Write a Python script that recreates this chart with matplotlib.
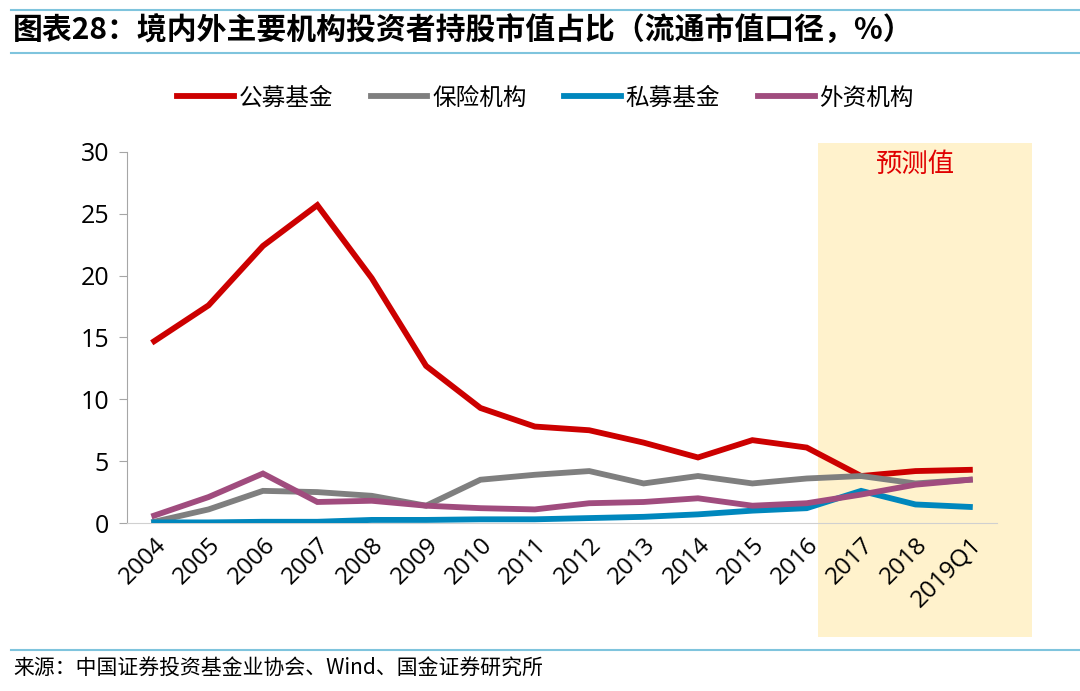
import matplotlib.pyplot as plt
from matplotlib.patches import Rectangle
from matplotlib.lines import Line2D

plt.rcParams['font.family'] = ['Open Sans', 'Noto Sans CJK SC', 'DejaVu Sans']

years = ['2004', '2005', '2006', '2007', '2008', '2009', '2010', '2011', '2012',
         '2013', '2014', '2015', '2016', '2017', '2018', '2019Q1']
public_fund = [14.7, 17.6, 22.4, 25.7, 19.8, 12.7, 9.3, 7.8, 7.5, 6.5, 5.3, 6.7, 6.1, 3.8, 4.2, 4.3]
insurance = [0.1, 1.1, 2.6, 2.5, 2.2, 1.4, 3.5, 3.9, 4.2, 3.2, 3.8, 3.2, 3.6, 3.8, 3.2, 3.5]
private_fund = [0.05, 0.05, 0.1, 0.1, 0.25, 0.25, 0.3, 0.3, 0.4, 0.5, 0.7, 1.0, 1.2, 2.6, 1.5, 1.3]
foreign = [0.6, 2.1, 4.0, 1.7, 1.8, 1.4, 1.2, 1.1, 1.6, 1.7, 2.0, 1.4, 1.6, 2.3, 3.1, 3.5]

names = ['公募基金', '保险机构', '私募基金', '外资机构']
colors = ['#CC0000', '#7F7F7F', '#0087BD', '#A04C7E']
series = [public_fund, insurance, private_fund, foreign]

fig = plt.figure(figsize=(10.8, 6.91), dpi=100)
ax = fig.add_axes([0.1176, 0.2431, 0.8056, 0.537])

x = list(range(len(years)))

# forecast shading, runs below the axis into the tick label area
ax.add_patch(Rectangle((12.2, -9.2), 3.94, 39.9, facecolor='#FFF2CC',
                       edgecolor='none', clip_on=False, zorder=0))
ax.text(14.0, 29.0, '预测值', color='#E00000', fontsize=19, ha='center', va='center',
        family=['Noto Sans CJK SC'])

for vals, c in zip(series, colors):
    ax.plot(x, vals, color=c, lw=4.2, solid_joinstyle='miter', zorder=3)

ax.set_xlim(-0.5, 15.5)
ax.set_ylim(0, 30)
ax.set_yticks([0, 5, 10, 15, 20, 25, 30])
ax.set_xticks(x)
ax.set_xticklabels(years, rotation=45, ha='right', rotation_mode='anchor')
ax.tick_params(axis='x', length=0, labelsize=17.5, pad=7)
ax.tick_params(axis='y', length=6, color='#A6A6A6', labelsize=18, pad=7)
for s in ['top', 'right']:
    ax.spines[s].set_visible(False)
ax.spines['left'].set_color('#A6A6A6')
ax.spines['bottom'].set_color('#D0D0D0')
ax.patch.set_alpha(0)

handles = [Line2D([], [], color=c, lw=4.2) for c in colors]
fig.legend(handles, names, loc='center', bbox_to_anchor=(0.505, 0.858), ncol=4,
           frameon=False, handlelength=2.4, columnspacing=1.6,
           handletextpad=0.2, prop={'family': ['Noto Sans CJK SC'], 'size': 17})

# title block and rules
fig.add_artist(Line2D([0.01, 1.0], [0.985, 0.985], color='#7FC4DD', lw=1.5))
fig.add_artist(Line2D([0.01, 1.0], [0.923, 0.923], color='#7FC4DD', lw=1.5))
fig.text(0.012, 0.955, '图表28：境内外主要机构投资者持股市值占比（流通市值口径，%）',
         fontsize=21.5, fontweight='bold', style='italic', va='center',
         family=['Noto Sans CJK SC'])
fig.add_artist(Line2D([0.01, 1.0], [0.06, 0.06], color='#7FC4DD', lw=1.5))
fig.text(0.012, 0.033, '来源：中国证券投资基金业协会、Wind、国金证券研究所',
         fontsize=15, va='center', family=['Noto Sans CJK SC'])

fig.savefig('out.png', dpi=100)
